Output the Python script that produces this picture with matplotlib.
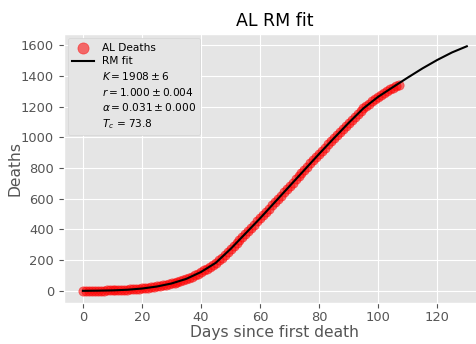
import matplotlib
matplotlib.use("Agg")
import matplotlib.pyplot as plt

plt.style.use("ggplot")

# cumulative deaths, day 0 .. 107
days = list(range(108))
deaths = [1, 1, 1, 1, 1, 2, 2, 2, 3, 3,
          4, 4, 5, 6, 7, 8, 9, 11, 12, 14,
          16, 18, 20, 23, 26, 29, 32, 35, 39, 43,
          48, 53, 58, 64, 70, 77, 85, 93, 103, 112,
          122, 133, 144, 156, 168, 182, 198, 215, 232, 250,
          270, 290, 310, 330, 351, 372, 392, 411, 432, 452,
          472, 494, 515, 536, 557, 578, 600, 620, 641, 662,
          684, 705, 726, 746, 767, 788, 810, 831, 852, 873,
          893, 913, 934, 954, 975, 995, 1014, 1034, 1055, 1075,
          1095, 1114, 1133, 1152, 1171, 1189, 1205, 1221, 1236, 1250,
          1264, 1277, 1290, 1302, 1313, 1323, 1332, 1340]

# RM fit curve
fit_days = [0, 5, 10, 15, 20, 25, 30, 35, 40, 45, 50, 55, 60, 65,
            70, 75, 80, 85, 90, 95, 100, 105, 110, 115, 120, 125, 130]
fit_vals = [0, 1, 3, 7, 15, 28, 48, 78, 123, 183, 273, 373, 473, 578,
            683, 788, 893, 995, 1095, 1190, 1265, 1328, 1390, 1450, 1505, 1554, 1594]

K, K_err = 1908, 6
r, r_err = 1.000, 0.004
alpha, alpha_err = 0.031, 0.000
Tc = 73.8

fig = plt.figure(figsize=(4.76, 3.44), dpi=100)
ax = fig.add_axes([0.134, 0.119, 0.887, 0.782])

ax.scatter(days, deaths, color="red", alpha=0.55, s=45, label="AL Deaths", zorder=2)
ax.plot(fit_days, fit_vals, color="black", lw=1.5, label="RM fit", zorder=3)
ax.plot([], [], " ", label=r"$K=%d \pm %d$" % (K, K_err))
ax.plot([], [], " ", label=r"$r=%.3f \pm %.3f$" % (r, r_err))
ax.plot([], [], " ", label=r"$\alpha=%.3f \pm %.3f$" % (alpha, alpha_err))
ax.plot([], [], " ", label=r"$T_c$ = %.1f" % Tc)

ax.set_title("AL RM fit", fontsize=12.5, color="black")
ax.set_xlabel("Days since first death", fontsize=11.2, labelpad=1)
ax.set_ylabel("Deaths", fontsize=11.2, labelpad=-1)
ax.tick_params(labelsize=9.4)
ax.tick_params(axis="x", pad=2)
ax.legend(loc="upper left", fontsize=7.6, handlelength=2.1, handletextpad=0.7,
          labelspacing=0.35, borderaxespad=0.4, markerscale=1.2,
          facecolor="#E5E5E5", edgecolor="#D5D5D5", framealpha=1)

fig.savefig("out.png", dpi=100)
